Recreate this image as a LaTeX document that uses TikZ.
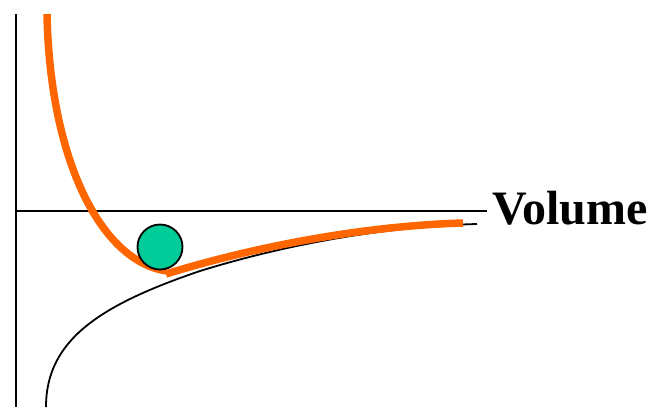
\documentclass[tikz,border=0pt]{standalone}
\usepackage{fontspec}
\setmainfont{Liberation Serif}
\definecolor{potorange}{RGB}{255,102,0}
\definecolor{ballgreen}{RGB}{0,204,153}
\begin{document}
\begin{tikzpicture}[x=1pt,y=-1pt,
  axis/.style={line width=1.8pt,black},
  thin curve/.style={line width=1.8pt,black},
  pot/.style={line width=7.5pt,potorange},
  ball/.style={circle,draw=black,line width=1.8pt,fill=ballgreen,minimum size=45pt,inner sep=0pt}]
\useasboundingbox (0,0) rectangle (661,407);
% axes
\coordinate (ytop) at (16,14);
\coordinate (ybot) at (16,407);
\coordinate (x0) at (16,211);
\coordinate (xend) at (487,211);
\draw[axis] (ytop) -- (ybot);
\draw[axis] (x0) -- (xend);
\node[anchor=west,font=\bfseries,inner sep=0pt] (vol) at (492,208) {\fontsize{48}{50}\selectfont Volume};
% attractive part (black)
\draw[thin curve] (46,407) .. controls (46,340) and (100,305) .. (200,271)
                  .. controls (300,240) and (400,226) .. (477,224);
% potential (orange)
\draw[pot] (47,14) .. controls (50,162) and (102,262) .. (167,271);
\draw[pot] (166,274) .. controls (250,248) and (360,226) .. (463,223);
% ball
\node[ball] (b) at (160,247) {};
\end{tikzpicture}
\end{document}
